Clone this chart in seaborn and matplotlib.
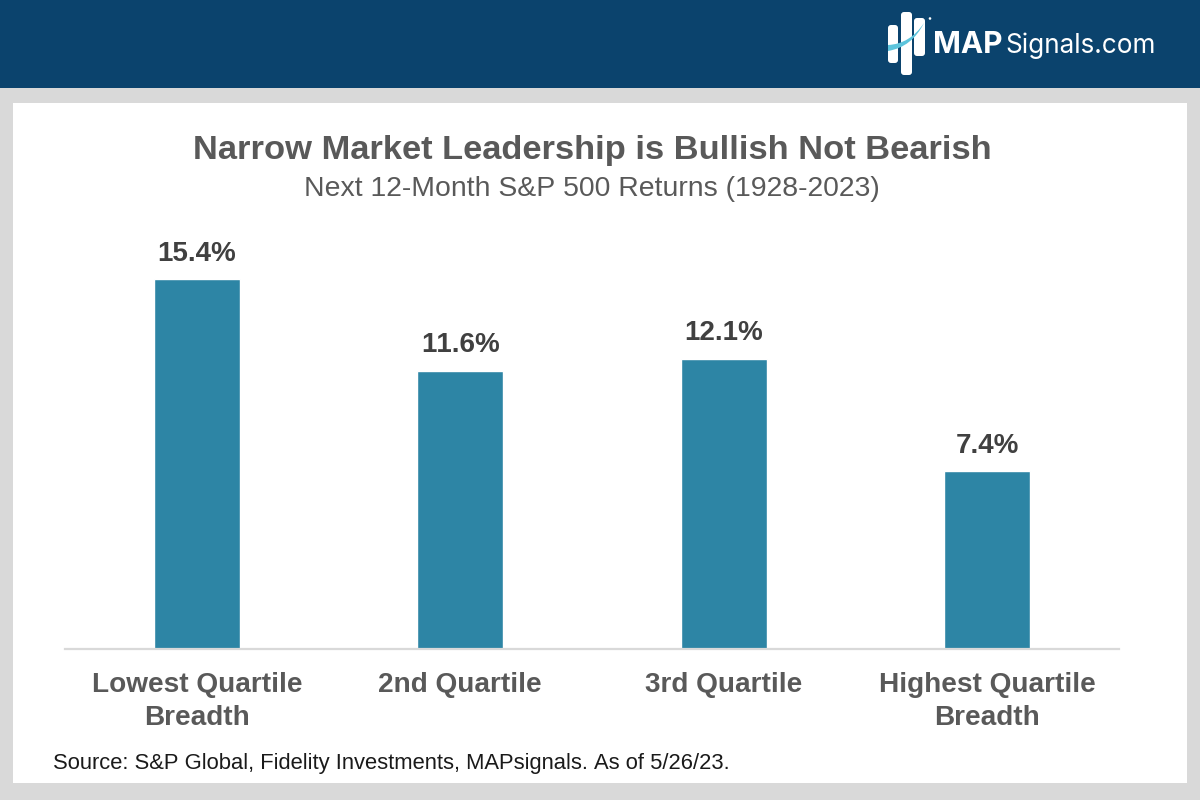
import matplotlib
matplotlib.use("Agg")
import matplotlib.pyplot as plt
from matplotlib.patches import Rectangle, FancyBboxPatch, PathPatch, Circle
from matplotlib.path import Path
import seaborn as sns
import pandas as pd

categories = ["Lowest Quartile\nBreadth", "2nd Quartile", "3rd Quartile", "Highest Quartile\nBreadth"]
returns = [15.4, 11.6, 12.1, 7.4]
value_labels = ["15.4%", "11.6%", "12.1%", "7.4%"]
title = "Narrow Market Leadership is Bullish Not Bearish"
subtitle = "Next 12-Month S&P 500 Returns (1928-2023)"
source = "Source: S&P Global, Fidelity Investments, MAPsignals. As of 5/26/23."

sns.set_theme(style="white")
plt.rcParams['font.family'] = ['Liberation Sans', 'DejaVu Sans']
plt.rcParams['text.kerning_factor'] = 6

W, H = 1200, 800
fig = plt.figure(figsize=(12, 8), dpi=100, facecolor="#D9D9D9")

def fx(x): return x / W
def fy(y): return 1 - y / H

# page furniture
fig.add_artist(Rectangle((0, fy(88)), 1, 88 / H, transform=fig.transFigure, fc="#0B436D", ec="none"))
fig.add_artist(Rectangle((fx(13), fy(783)), 1174 / W, 680 / H, transform=fig.transFigure, fc="white", ec="none"))

# logo, drawn in pixel coordinates on an overlay
ov = fig.add_axes([0, 0, 1, 1], zorder=5)
ov.set_xlim(0, W); ov.set_ylim(H, 0); ov.axis("off"); ov.patch.set_alpha(0)
for x0, y0, w, h in [(888, 25, 10, 38), (901, 12, 11, 63), (914, 18, 11, 38)]:
    ov.add_patch(FancyBboxPatch((x0 + 2, y0 + 2), w - 4, h - 4, boxstyle="round,pad=2,rounding_size=3",
                                fc="white", ec="none"))
ov.add_patch(PathPatch(Path([(888, 45), (910, 44), (924, 23), (912, 47), (888, 51), (888, 45)],
                            [Path.MOVETO, Path.CURVE3, Path.CURVE3, Path.CURVE3, Path.CURVE3, Path.CLOSEPOLY]),
                       fc="#5CC4DC", ec="none"))
ov.add_patch(Circle((930, 18.5), 1.3, fc="white", ec="none"))
ov.text(933, 53, "MAP", color="white", fontsize=21.5, fontweight="bold", family="Inter", ha="left", va="baseline")
ov.text(1005, 53, "Signals.com", color="white", fontsize=18.8, family="Inter", ha="left", va="baseline")

# chart axes: baseline at y=649, spanning x 65..1119
top_px = 230
ax = fig.add_axes([fx(65), fy(649), 1054 / W, (649 - top_px) / H], zorder=2)
ax.patch.set_alpha(0)
df = pd.DataFrame({"category": categories, "value": returns})
sns.barplot(data=df, x="category", y="value", color="#2D85A5", saturation=1, width=0.325, ax=ax)
ax.set_xlim(-0.5, 3.5)
ax.set_ylim(0, (649 - top_px) / 24.0)
ax.set_xlabel(""); ax.set_ylabel(""); ax.set_yticks([])
ax.tick_params(axis="x", length=0, pad=16.5)
for lab in ax.get_xticklabels():
    lab.set_fontsize(20.2); lab.set_fontweight("bold"); lab.set_color("#595959")
    lab.set_linespacing(1.36); lab.set_va("top")
for s in ["top", "left", "right"]:
    ax.spines[s].set_visible(False)
ax.spines["bottom"].set_color("#D9D9D9"); ax.spines["bottom"].set_linewidth(1.6)
ax.bar_label(ax.containers[0], labels=value_labels, padding=9, fontsize=20, fontweight="bold", color="#404040")

fig.text(fx(592), fy(150.5), title, ha="center", va="center", fontsize=24.8, fontweight="bold", color="#595959")
fig.text(fx(592), fy(188.5), subtitle, ha="center", va="center", fontsize=20.4, color="#595959")
fig.text(fx(53), fy(764), source, ha="left", va="center", fontsize=15.8, color="#1a1a1a")

fig.savefig("out.png", dpi=100, facecolor=fig.get_facecolor())
